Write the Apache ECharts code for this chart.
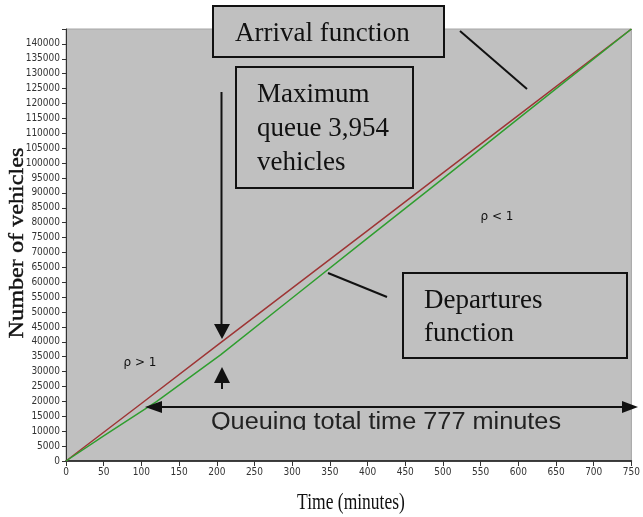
<!DOCTYPE html>
<html>
<head>
<meta charset="utf-8">
<script src="https://cdn.jsdelivr.net/npm/echarts@6/dist/echarts.min.js"></script>
<style>
html,body{margin:0;padding:0;background:#fff;}
#chart{width:643px;height:517px;}
</style>
</head>
<body>
<div id="chart"></div>
<script>
// ---- data ----
const arrivalTime = [0, 100, 200, 300, 400, 500, 600, 750];
const arrivalVehicles = [0, 19300, 38700, 58000, 77300, 96700, 116000, 145000];
const departureTime = [0, 50, 120, 205, 300, 400, 500, 600, 750];
const departureVehicles = [0, 8400, 19900, 35650, 54700, 74800, 94800, 114900, 145000];
const xTickStep = 50;
const yTickStep = 5000;
const xMax = 750;
const yMax = 145000;
const xTitle = 'Time (minutes)';
const yTitle = 'Number of vehicles';
const arrivalLabel = 'Arrival function';
const departureLabel = ['Departures', 'function'];
const maxQueueLabel = ['Maximum', 'queue 3,954', 'vehicles'];
const rhoHigh = 'ρ > 1';
const rhoLow = 'ρ < 1';
const queueTimeLabel = 'Queuing total time 777 minutes';

const chart = echarts.init(document.getElementById('chart'), null, {renderer: 'canvas'});

const serif = "'Liberation Serif', 'Times New Roman', serif";
const tickFont = "'Liberation Sans Narrow', 'DejaVu Sans Condensed', 'Liberation Sans', sans-serif";

// baseline -> middle offset for 27px serif text
function boxText(lines, x, baseline0, lh) {
  return lines.map((t, i) => ({
    type: 'text', z: 102,
    style: {x: x, y: baseline0 + i * lh - 9, text: t, fill: '#111', font: '27px ' + serif, textAlign: 'left', textVerticalAlign: 'middle'}
  }));
}

const graphics = [
  // y axis title
  {type: 'text', z: 100, x: 17, y: 243, rotation: Math.PI / 2, scaleX: 1.1,
   style: {text: yTitle, fill: '#111', font: '22px ' + serif, textAlign: 'center', textVerticalAlign: 'middle', stroke: '#111', lineWidth: 0.4}},
  // x axis title
  {type: 'text', z: 100, x: 351, y: 503, scaleY: 1.35,
   style: {text: xTitle, fill: '#111', font: '17.5px ' + serif, textAlign: 'center', textVerticalAlign: 'middle'}},
  // Arrival box
  {type: 'rect', z: 101, shape: {x: 213, y: 6, width: 231, height: 51},
   style: {fill: '#c0c0c0', stroke: '#111', lineWidth: 2}},
  ...boxText([arrivalLabel], 235, 43, 34),
  {type: 'line', z: 101, shape: {x1: 460, y1: 31, x2: 527, y2: 89}, style: {stroke: '#111', lineWidth: 2}},
  // Max queue box
  {type: 'rect', z: 101, shape: {x: 236, y: 67, width: 177, height: 121},
   style: {fill: '#c0c0c0', stroke: '#111', lineWidth: 2}},
  ...boxText(maxQueueLabel, 257, 104, 34),
  // Departures box
  {type: 'rect', z: 101, shape: {x: 403, y: 273, width: 224, height: 85},
   style: {fill: '#c0c0c0', stroke: '#111', lineWidth: 2}},
  ...boxText(departureLabel, 424, 310, 33),
  {type: 'line', z: 101, shape: {x1: 328, y1: 273, x2: 387, y2: 297}, style: {stroke: '#111', lineWidth: 2}},
  // down arrow
  {type: 'line', z: 101, shape: {x1: 221.5, y1: 92, x2: 221.5, y2: 326}, style: {stroke: '#111', lineWidth: 2}},
  {type: 'polygon', z: 101, shape: {points: [[214, 324], [230, 324], [222, 339]]}, style: {fill: '#111'}},
  // up arrow
  {type: 'line', z: 101, shape: {x1: 222, y1: 380, x2: 222, y2: 389}, style: {stroke: '#111', lineWidth: 2}},
  {type: 'polygon', z: 101, shape: {points: [[214, 383], [230, 383], [222, 367]]}, style: {fill: '#111'}},
  // double arrow
  {type: 'line', z: 101, shape: {x1: 158, y1: 407, x2: 626, y2: 407}, style: {stroke: '#111', lineWidth: 2}},
  {type: 'polygon', z: 101, shape: {points: [[145, 407], [162, 401], [162, 413]]}, style: {fill: '#111'}},
  {type: 'polygon', z: 101, shape: {points: [[638, 407], [622, 401], [622, 413]]}, style: {fill: '#111'}},
  // queue time text (clipped at baseline)
  {type: 'text', z: 101, x: 386, y: 423, scaleX: 1.1,
   style: {text: queueTimeLabel, fill: '#222', font: "23px 'Liberation Sans', Arial, sans-serif", textAlign: 'center', textVerticalAlign: 'middle'}},
  {type: 'rect', z: 102, shape: {x: 195, y: 430, width: 385, height: 16}, style: {fill: '#c0c0c0'}},
  // rho labels
  {type: 'text', z: 101, x: 140, y: 363,
   style: {text: rhoHigh, fill: '#111', font: "12px 'DejaVu Sans', sans-serif", textAlign: 'center', textVerticalAlign: 'middle'}},
  {type: 'text', z: 101, x: 497, y: 217,
   style: {text: rhoLow, fill: '#111', font: "12px 'DejaVu Sans', sans-serif", textAlign: 'center', textVerticalAlign: 'middle'}}
];

const option = {
  animation: false,
  backgroundColor: '#ffffff',
  grid: {left: 66, right: 8, top: 29, bottom: 56, show: true, backgroundColor: '#c0c0c0', borderColor: '#a6a6a6', borderWidth: 1},
  xAxis: {
    type: 'value', min: 0, max: xMax, interval: xTickStep,
    axisLine: {show: true, onZero: false, lineStyle: {color: '#111', width: 1.5}},
    axisTick: {show: true, length: 5, lineStyle: {color: '#333'}},
    axisLabel: {color: '#333', fontFamily: tickFont, fontSize: 10, margin: 6},
    splitLine: {show: false}
  },
  yAxis: {
    type: 'value', min: 0, max: yMax, interval: yTickStep,
    axisLine: {show: true, lineStyle: {color: '#333', width: 1}},
    axisTick: {show: true, length: 4, lineStyle: {color: '#333'}},
    axisLabel: {color: '#333', fontFamily: tickFont, fontSize: 10, margin: 6,
      formatter: v => (v >= yMax ? '' : String(v))},
    splitLine: {show: false}
  },
  series: [
    {name: 'Arrival', type: 'line', showSymbol: false, z: 3,
     data: arrivalTime.map((t, i) => [t, arrivalVehicles[i]]),
     lineStyle: {color: '#9e3535', width: 1.5}},
    {name: 'Departure', type: 'line', showSymbol: false, z: 3,
     data: departureTime.map((t, i) => [t, departureVehicles[i]]),
     lineStyle: {color: '#2f9e2f', width: 1.5}}
  ],
  graphic: graphics
};
chart.setOption(option);
</script>
</body>
</html>
